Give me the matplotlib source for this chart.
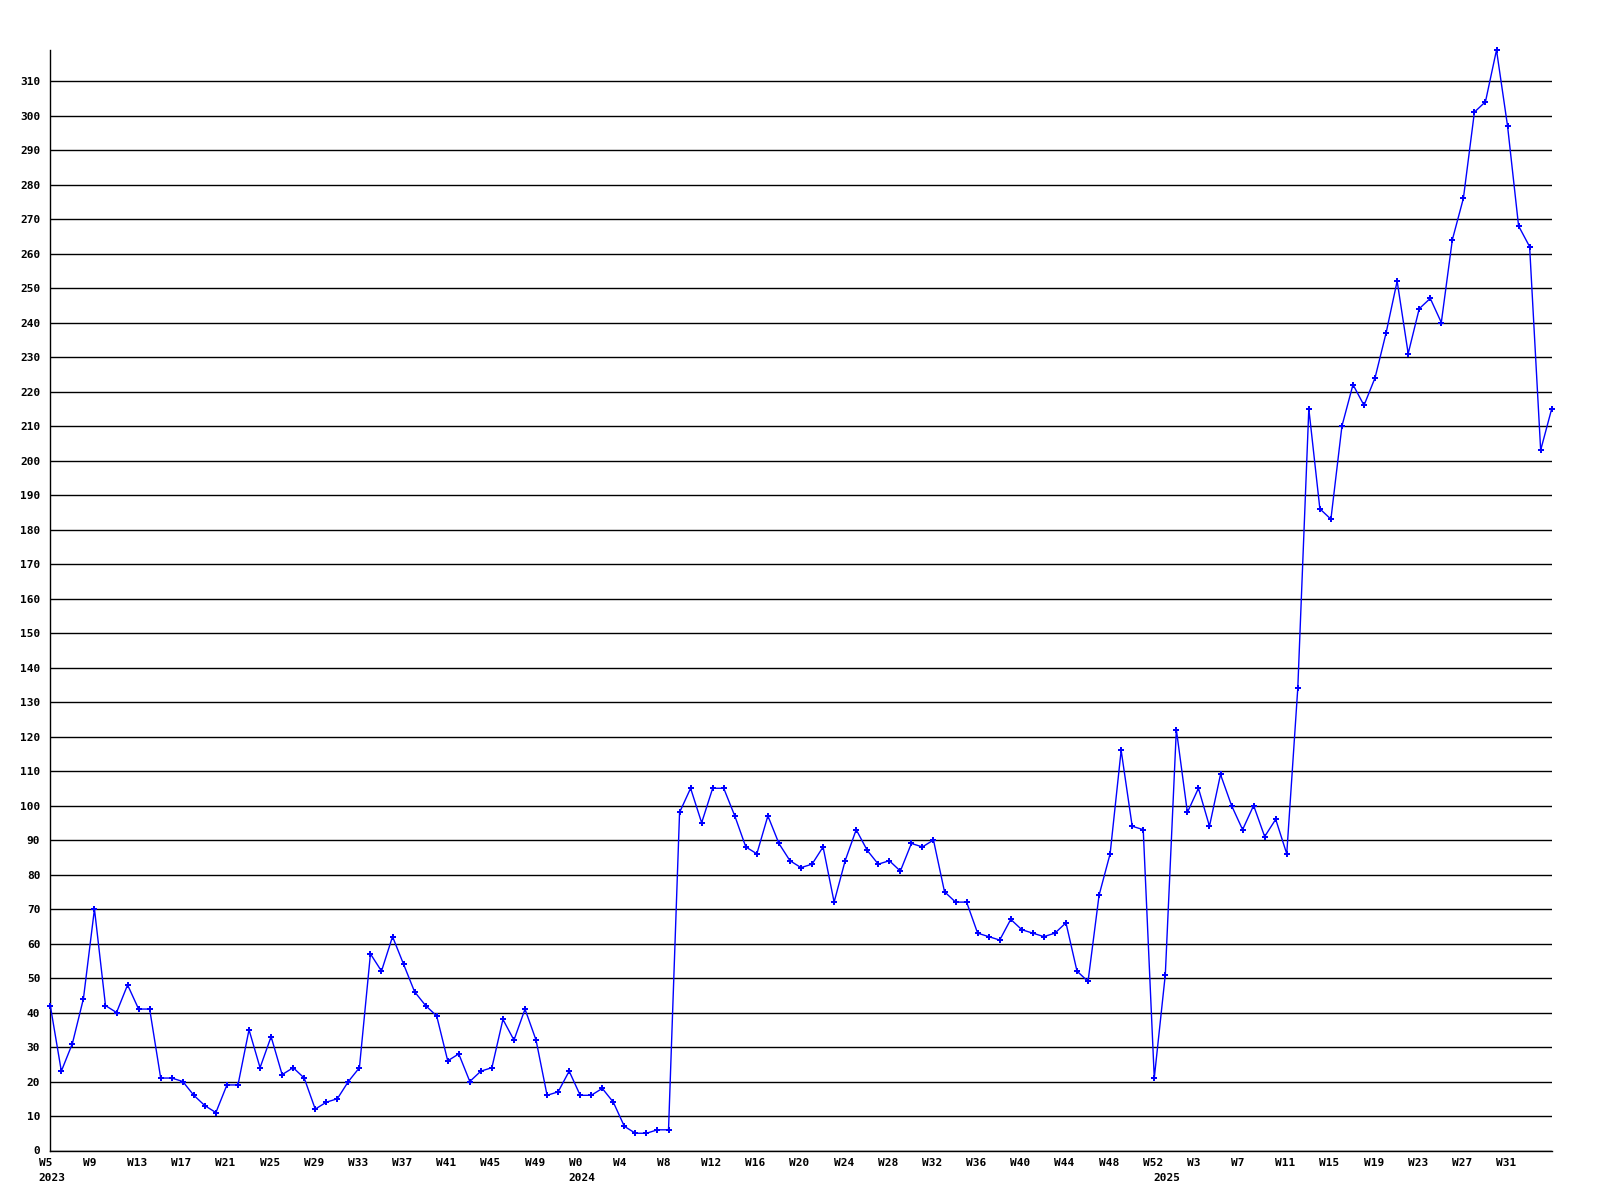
import matplotlib
matplotlib.use("Agg")
import matplotlib.pyplot as plt

# ---- data ----
weeks_2023 = [f"W{w}" for w in range(5, 53)]
weeks_2024 = [f"W{w}" for w in range(0, 53)]
weeks_2025 = [f"W{w}" for w in range(0, 36)]
weeks = weeks_2023 + weeks_2024 + weeks_2025

values = [
    42, 23, 31, 44, 70, 42, 40, 48, 41, 41, 21, 21, 20, 16, 13, 11, 19, 19, 35, 24,
    33, 22, 24, 21, 12, 14, 15, 20, 24, 57, 52, 62, 54, 46, 42, 39, 26, 28, 20, 23,
    24, 38, 32, 41, 32, 16, 17, 23, 16, 16, 18, 14, 7, 5, 5, 6, 6, 98, 105, 95,
    105, 105, 97, 88, 86, 97, 89, 84, 82, 83, 88, 72, 84, 93, 87, 83, 84, 81, 89, 88,
    90, 75, 72, 72, 63, 62, 61, 67, 64, 63, 62, 63, 66, 52, 49, 74, 86, 116, 94, 93,
    21, 51, 122, 98, 105, 94, 109, 100, 93, 100, 91, 96, 86, 134, 215, 186, 183, 210, 222, 216,
    224, 237, 252, 231, 244, 247, 240, 264, 276, 301, 304, 319, 297, 268, 262, 203, 215,
]

years = ["2023", "2024", "2025"]
year_lengths = [len(weeks_2023), len(weeks_2024), len(weeks_2025)]
label_every = 4

yticks = list(range(0, 320, 10))

# ---- figure ----
fig = plt.figure(figsize=(16, 12), dpi=100)
fig.patch.set_facecolor("white")
ax = fig.add_axes([50.3 / 1600, 49.5 / 1200, 1501.4 / 1600, 1100.5 / 1200])

x = list(range(len(values)))
ax.plot(x, values, color="#0000ff", lw=1.0, marker="P", markersize=4,
        markeredgewidth=0, clip_on=False, zorder=3)

ax.set_xlim(0, len(values) - 1)
ax.set_ylim(0, max(values))

font = dict(family="DejaVu Sans Mono", weight="bold", size=8)

ax.set_yticks(yticks)
ax.set_yticklabels([str(v) for v in yticks], fontdict=font)
ax.tick_params(axis="y", length=0, pad=7.2)
ax.set_xticks([])

ax.yaxis.grid(True, color="black", lw=1.0)
ax.set_axisbelow(True)

for s in ["top", "right"]:
    ax.spines[s].set_visible(False)
for s in ["left", "bottom"]:
    ax.spines[s].set_color("black")
    ax.spines[s].set_linewidth(1.0)

label_dx = -8.3  # points: labels start a little left of their point
# the final point carries no label
for i in range(0, len(weeks) - 1, label_every):
    ax.annotate(weeks[i], xy=(i, 0), xycoords=("data", "axes fraction"),
                xytext=(label_dx, -11.2), textcoords="offset points",
                ha="left", va="baseline", annotation_clip=False, **font)

start = 0
for yr, n in zip(years, year_lengths):
    ax.annotate(yr, xy=(start, 0), xycoords=("data", "axes fraction"),
                xytext=(label_dx, -22.0), textcoords="offset points",
                ha="left", va="baseline", annotation_clip=False, **font)
    start += n

fig.savefig("out.png", dpi=100, facecolor="white")
